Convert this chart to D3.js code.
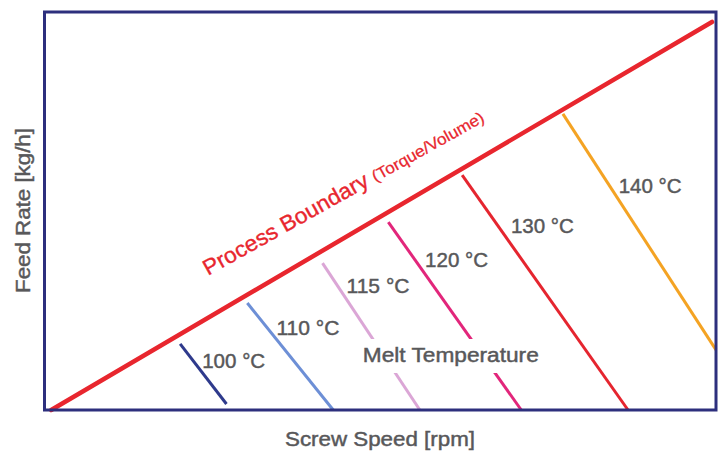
<!DOCTYPE html>
<html>
<head>
<meta charset="utf-8">
<script src="https://cdn.jsdelivr.net/npm/d3@7"></script>
<style>
  html, body { margin: 0; padding: 0; background: #fff; }
  svg { display: block; }
  text { font-family: "Liberation Sans", Arial, Helvetica, sans-serif; }
</style>
</head>
<body>
<svg id="chart" width="720" height="451"></svg>
<script>
// ---- Data (arbitrary units: screw speed 0-100, feed rate 0-100) ----
const boundaryX = [1, 99.4];
const boundaryY = [0, 97.5];

const tempLabels = ["100 °C", "110 °C", "115 °C", "120 °C", "130 °C", "140 °C"];
const startX = [20.2, 30.2, 41.4, 51.2, 62.2, 77.2];
const startY = [16.6, 26.9, 36.9, 47.2, 59.0, 74.4];
const endX   = [27.1, 43.0, 55.9, 71.0, 86.9, 100];
const endY   = [1.5, 0, 0, 0, 0, 15.1];
const labelY = [10.55, 18.8, 29.4, 35.9, 44.5, 54.5];

const xTitle = "Screw Speed [rpm]";
const yTitle = "Feed Rate [kg/h]";
const boundaryTitle = "Process Boundary";
const boundarySub = "(Torque/Volume)";
const meltTitle = "Melt Temperature";
const meltLabelX = 47.4;
const meltLabelY = 12.06;

// ---- Styles ----
const colors = ["#2e3a8c", "#6d8fd6", "#dba6d6", "#e2267b", "#e5252f", "#f4a323"];
const labelDx = [9, 9, 9, 10, 13, 9];
const grey = "#58585a";
const red = "#e8262e";

const svg = d3.select("#chart");
const x = d3.scaleLinear().domain([0, 100]).range([44.5, 716]);
const y = d3.scaleLinear().domain([0, 100]).range([410, 12]);

function greyText(sel, size) {
  return sel.attr("font-size", size).attr("fill", grey)
    .attr("stroke", grey).attr("stroke-width", 0.45)
    .attr("lengthAdjust", "spacingAndGlyphs");
}

// isotherm lines
const iso = tempLabels.map((t, i) => ({
  t, x1: startX[i], y1: startY[i], x2: endX[i], y2: endY[i], c: colors[i], ly: labelY[i], dx: labelDx[i]
}));

svg.append("g").selectAll("line").data(iso).join("line")
  .attr("x1", d => x(d.x1)).attr("y1", d => y(d.y1))
  .attr("x2", d => x(d.x2)).attr("y2", d => y(d.y2))
  .attr("stroke", d => d.c).attr("stroke-width", 3);

// melt temperature label with white knock-out
const meltG = svg.append("g");
const meltText = meltG.append("text")
  .attr("x", x(meltLabelX)).attr("y", y(meltLabelY))
  .attr("textLength", 176)
  .text(meltTitle);
greyText(meltText, 20);
meltG.insert("rect", "text")
  .attr("x", x(meltLabelX) - 6).attr("y", y(meltLabelY) - 23)
  .attr("width", 176 + 12).attr("height", 34)
  .attr("fill", "#fff");

// temperature labels, positioned right of each line
greyText(svg.append("g").selectAll("text").data(iso).join("text")
  .attr("x", d => {
    const midY = d.ly + 1.8;
    const f = (midY - d.y1) / (d.y2 - d.y1);
    return x(d.x1 + f * (d.x2 - d.x1)) + d.dx;
  })
  .attr("y", d => y(d.ly))
  .attr("textLength", 63)
  .text(d => d.t), 21);

// process boundary
const line = d3.line().x(d => x(d[0])).y(d => y(d[1]));
svg.append("path")
  .datum(boundaryX.map((v, i) => [v, boundaryY[i]]))
  .attr("d", line)
  .attr("stroke", red).attr("stroke-width", 4.5).attr("fill", "none")
  .attr("stroke-linecap", "round");

// boundary title
const bg = svg.append("g").attr("transform", "translate(208,276) rotate(-29.2)");
bg.append("text").attr("x", 0).attr("y", 0)
  .attr("fill", red).attr("stroke", red).attr("stroke-width", 0.35)
  .attr("font-size", 22).attr("textLength", 186).attr("lengthAdjust", "spacingAndGlyphs")
  .text(boundaryTitle);
bg.append("text").attr("x", 192).attr("y", 0)
  .attr("fill", red).attr("stroke", red).attr("stroke-width", 0.25)
  .attr("font-size", 16).attr("textLength", 126).attr("lengthAdjust", "spacingAndGlyphs")
  .text(boundarySub);

// frame
svg.append("rect")
  .attr("x", x(0)).attr("y", y(100))
  .attr("width", x(100) - x(0)).attr("height", y(0) - y(100))
  .attr("fill", "none").attr("stroke", "#2d2f7d").attr("stroke-width", 3);

// axis titles
greyText(svg.append("text")
  .attr("x", 285).attr("y", 446)
  .attr("textLength", 190)
  .text(xTitle), 20);
greyText(svg.append("text")
  .attr("transform", `translate(30,293) rotate(-90)`)
  .attr("textLength", 165)
  .text(yTitle), 20);
</script>
</body>
</html>
